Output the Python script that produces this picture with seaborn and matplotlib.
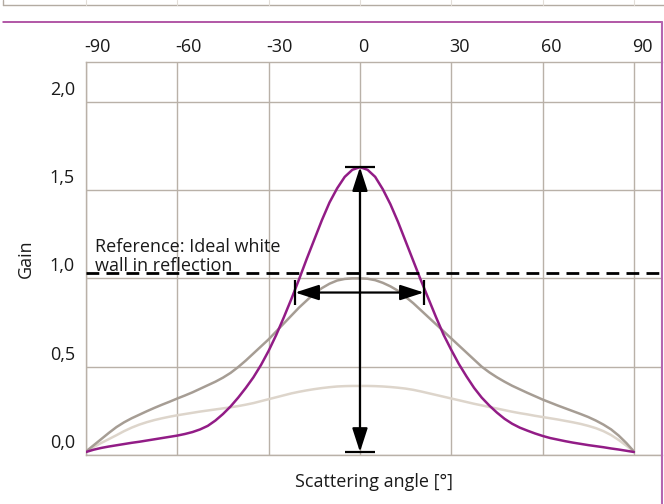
import numpy as np
import pandas as pd
import matplotlib
matplotlib.use("Agg")
import matplotlib.pyplot as plt
import matplotlib.transforms as mtransforms
from matplotlib.lines import Line2D
import seaborn as sns

# ---------------- data (2.5° steps) ----------------
angles = [-90, -87.5, -85, -82.5, -80, -77.5, -75, -72.5, -70, -67.5, -65, -62.5, -60, -57.5,
          -55, -52.5, -50, -47.5, -45, -42.5, -40, -37.5, -35, -32.5, -30, -27.5, -25, -22.5,
          -20, -17.5, -15, -12.5, -10, -7.5, -5, -2.5, 0, 2.5, 5, 7.5, 10, 12.5, 15, 17.5, 20,
          22.5, 25, 27.5, 30, 32.5, 35, 37.5, 40, 42.5, 45, 47.5, 50, 52.5, 55, 57.5, 60, 62.5,
          65, 67.5, 70, 72.5, 75, 77.5, 80, 82.5, 85, 87.5, 90]
gain_purple = [0.017, 0.03, 0.04, 0.048, 0.055, 0.062, 0.069, 0.075, 0.082, 0.089, 0.096, 0.103,
               0.11, 0.119, 0.13, 0.145, 0.165, 0.195, 0.232, 0.275, 0.325, 0.38, 0.44, 0.51, 0.59,
               0.68, 0.78, 0.885, 0.995, 1.11, 1.22, 1.33, 1.43, 1.51, 1.575, 1.615, 1.63, 1.615,
               1.575, 1.505, 1.42, 1.32, 1.21, 1.10, 0.99, 0.885, 0.78, 0.68, 0.595, 0.515, 0.445,
               0.38, 0.325, 0.28, 0.24, 0.205, 0.177, 0.155, 0.138, 0.122, 0.108, 0.096, 0.087,
               0.078, 0.07, 0.063, 0.056, 0.05, 0.044, 0.037, 0.031, 0.024, 0.017]
gain_gray = [0.02, 0.055, 0.09, 0.125, 0.158, 0.185, 0.208, 0.228, 0.248, 0.267, 0.285, 0.302,
             0.32, 0.337, 0.355, 0.375, 0.395, 0.415, 0.438, 0.465, 0.498, 0.535, 0.575, 0.615,
             0.655, 0.70, 0.745, 0.79, 0.835, 0.875, 0.915, 0.945, 0.97, 0.988, 0.997, 1.0, 1.0,
             0.998, 0.99, 0.975, 0.955, 0.93, 0.895, 0.86, 0.82, 0.78, 0.74, 0.70, 0.66, 0.62,
             0.58, 0.54, 0.50, 0.468, 0.44, 0.415, 0.392, 0.372, 0.352, 0.333, 0.314, 0.297,
             0.28, 0.264, 0.248, 0.232, 0.215, 0.195, 0.172, 0.145, 0.11, 0.068, 0.02]
gain_light = [0.02, 0.045, 0.068, 0.09, 0.112, 0.135, 0.155, 0.172, 0.186, 0.198, 0.208, 0.217,
              0.225, 0.232, 0.239, 0.246, 0.252, 0.258, 0.264, 0.27, 0.277, 0.285, 0.294, 0.305,
              0.316, 0.327, 0.338, 0.349, 0.358, 0.366, 0.373, 0.379, 0.384, 0.388, 0.39, 0.391,
              0.391, 0.391, 0.39, 0.388, 0.385, 0.381, 0.376, 0.369, 0.36, 0.35, 0.34, 0.33, 0.32,
              0.31, 0.30, 0.29, 0.281, 0.272, 0.263, 0.254, 0.245, 0.237, 0.23, 0.222, 0.215,
              0.208, 0.201, 0.193, 0.185, 0.176, 0.165, 0.152, 0.135, 0.113, 0.085, 0.053, 0.02]

x_ticks = [-90, -60, -30, 0, 30, 60, 90]
x_tick_labels = ["-90", "-60", "-30", "0", "30", "60", "90"]
y_ticks = [0.0, 0.5, 1.0, 1.5, 2.0]
y_tick_labels = ["0,0", "0,5", "1,0", "1,5", "2,0"]

reference_level = 1.03
peak_gain = 1.63
base_gain = 0.017
half_width_left = -21.3
half_width_right = 21.0
half_width_level = 0.92

# ---------------- style ----------------
sns.set_style("white")
plt.rcParams["font.family"] = ["Open Sans", "DejaVu Sans"]
FS = 13
plt.rcParams["font.size"] = FS

C_PURPLE = "#921c86"
C_GRAY = "#a69d94"
C_LIGHT = "#ddd5cb"
C_GRID = "#b9b1a8"
C_TEXT = "#1a1a1a"

fig = plt.figure(figsize=(6.64, 5.04), dpi=100)
W, H = 664, 504
ax = fig.add_axes([86 / W, 49 / H, 576 / W, 393 / H])

df = pd.DataFrame({
    "angle": angles * 3,
    "gain": gain_light + gain_gray + gain_purple,
    "series": ["light"] * len(angles) + ["gray"] * len(angles) + ["purple"] * len(angles),
})
palette = {"light": C_LIGHT, "gray": C_GRAY, "purple": C_PURPLE}
sns.lineplot(data=df, x="angle", y="gain", hue="series", palette=palette,
             linewidth=1.8, legend=False, ax=ax, zorder=3, sort=False)
for ln in ax.get_lines():
    ln.set_solid_joinstyle("round")

ax.set_xlim(-90, -90 + 576 / 3.044)
ax.set_ylim(0, 393 / 176.6)

# grid
for xv in x_ticks:
    ax.axvline(xv, color=C_GRID, lw=1.0, zorder=1)
for yv in y_ticks:
    ax.axhline(yv, color=C_GRID, lw=1.0, zorder=1)

for s in ["left", "bottom", "top"]:
    ax.spines[s].set_color(C_GRID)
    ax.spines[s].set_linewidth(1.0)
ax.spines["right"].set_visible(False)

# ticks
ax.xaxis.tick_top()
ax.set_xticks(x_ticks)
ax.set_xticklabels(x_tick_labels, ha="left")
ax.set_yticks(y_ticks)
ax.set_yticklabels(y_tick_labels)
ax.tick_params(axis="both", length=0, labelsize=FS, colors=C_TEXT)
ax.tick_params(axis="x", pad=4)
ax.tick_params(axis="y", pad=8)
up = mtransforms.ScaledTranslation(0, 14 / 100, fig.dpi_scale_trans)
for t in ax.yaxis.get_major_ticks():
    t.label1.set_transform(t.label1.get_transform() + up)
left = mtransforms.ScaledTranslation(-2 / 100, 0, fig.dpi_scale_trans)
for t in ax.xaxis.get_major_ticks():
    t.label2.set_transform(t.label2.get_transform() + left)

ax.set_xlabel("Scattering angle [°]", fontsize=FS, color=C_TEXT)
ax.xaxis.set_label_position("bottom")
ax.xaxis.set_label_coords(0.5, -0.045)
ax.set_ylabel("Gain", fontsize=FS, color=C_TEXT)
ax.yaxis.set_label_coords(-0.089, 0.5)

# reference line
ax.axhline(reference_level, color="black", lw=2.0, dashes=(4.6, 2.6), zorder=4)
ax.text(-87.0, 1.022, "Reference: Ideal white\nwall in reflection", ha="left", va="bottom",
        fontsize=FS, color=C_TEXT, linespacing=1.05, zorder=5)

# arrows
ap = dict(arrowstyle="<|-|>,head_length=1.45,head_width=0.47", color="black", lw=1.6,
          shrinkA=0, shrinkB=0, mutation_scale=10)
ax.annotate("", xy=(0, peak_gain), xytext=(0, base_gain), arrowprops=ap, zorder=6)
ax.annotate("", xy=(half_width_right, half_width_level), xytext=(half_width_left, half_width_level),
            arrowprops=ap, zorder=6)
ax.plot([-5, 5], [peak_gain, peak_gain], color="black", lw=1.6, zorder=6, solid_capstyle="butt")
ax.plot([-5, 5], [base_gain, base_gain], color="black", lw=1.6, zorder=6, solid_capstyle="butt")
ax.plot([half_width_left, half_width_left], [half_width_level - 0.07, half_width_level + 0.07],
        color="black", lw=1.6, zorder=6, solid_capstyle="butt")
ax.plot([half_width_right, half_width_right], [half_width_level - 0.07, half_width_level + 0.07],
        color="black", lw=1.6, zorder=6, solid_capstyle="butt")

# page decorations
fig.add_artist(Line2D([3 / W, 1], [1 - 5 / H, 1 - 5 / H], color="#b3aba2", lw=1.0, transform=fig.transFigure))
fig.add_artist(Line2D([3 / W, 3 / W], [1 - 5 / H, 1], color="#b3aba2", lw=1.0, transform=fig.transFigure))
blend = mtransforms.blended_transform_factory(ax.transData, fig.transFigure)
for xv in x_ticks:
    fig.add_artist(Line2D([xv, xv], [1 - 5 / H, 1], color="#e2ddd7", lw=0.8, transform=blend))
fig.add_artist(Line2D([3 / W, 662 / W], [1 - 22 / H, 1 - 22 / H], color="#9c2a8e", lw=1.1,
                      transform=fig.transFigure))
fig.add_artist(Line2D([662 / W, 662 / W], [0, 1 - 22 / H], color="#b565b0", lw=1.5,
                      transform=fig.transFigure))

fig.savefig("out.png", dpi=100)
